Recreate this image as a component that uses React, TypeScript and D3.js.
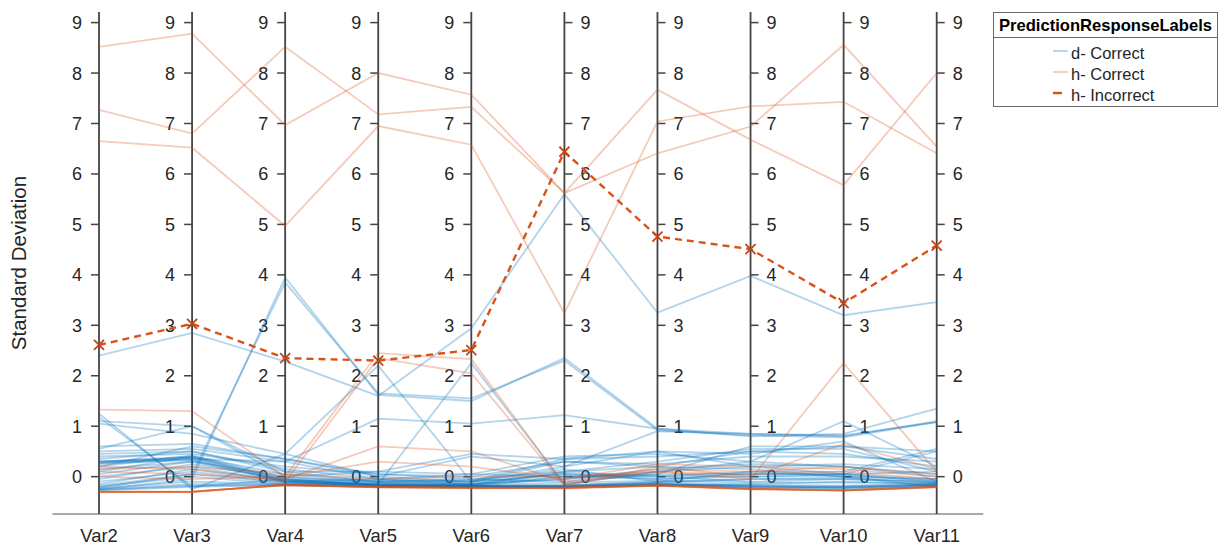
import React, { useEffect, useRef } from "react";
import * as d3 from "d3";

const dimensions = ["Var2", "Var3", "Var4", "Var5", "Var6", "Var7", "Var8", "Var9", "Var10", "Var11"];
const yTicks = [0, 1, 2, 3, 4, 5, 6, 7, 8, 9];

// d- Correct observations (one row per observation, one value per variable)
const dCorrect = [
    [2.40, 2.85, 2.28, 1.60, 2.94, 5.60, 3.25, 3.98, 3.20, 3.46],
    [-0.25, -0.05, 3.95, 1.62, 1.50, 2.35, 0.95, 0.85, 0.80, 1.10],
    [-0.22, 0.05, 3.85, 1.65, 1.55, 2.30, 0.92, 0.82, 0.78, 1.08],
    [0.30, 0.35, 0.30, 1.15, 1.05, 1.22, 0.95, 0.80, 0.85, 1.35],
    [1.25, -0.25, 0.45, 2.20, -0.10, 0.30, 0.20, 0.50, 0.60, 0.50],
    [1.18, -0.20, -0.05, -0.15, 2.25, -0.15, 0.10, 0.30, 1.10, 0.20],
    [1.10, 1.00, 0.10, -0.10, -0.10, 0.05, 0.00, 0.10, 0.10, 0.55],
    [0.55, 1.00, 0.00, -0.12, -0.15, 0.10, 0.30, 0.55, 0.55, 0.10],
    [1.05, 0.85, 0.45, 0.00, 0.40, 0.20, 0.50, 0.20, 0.05, -0.05],
    [0.30, 0.40, -0.05, -0.18, -0.18, -0.20, -0.15, -0.20, -0.20, -0.15],
    [0.28, 0.38, -0.08, -0.18, -0.20, -0.20, -0.15, -0.22, -0.22, -0.18],
    [0.25, 0.35, -0.10, -0.20, -0.20, 0.00, 0.05, 0.05, 0.05, -0.10],
    [0.40, 0.45, 0.20, 0.05, 0.00, 0.30, 0.25, 0.40, 0.40, 0.30],
    [0.50, 0.55, 0.30, -0.05, 0.05, 0.40, 0.45, 0.30, 0.20, 0.00],
    [0.00, 0.20, -0.10, -0.15, -0.15, -0.05, 0.15, 0.25, 0.20, 0.05],
    [-0.10, 0.10, -0.12, -0.15, -0.18, -0.18, -0.10, 0.10, 0.00, -0.05],
    [-0.20, 0.00, -0.15, -0.18, -0.20, -0.20, -0.18, -0.15, -0.10, -0.15],
    [-0.27, -0.20, -0.17, -0.20, -0.21, -0.21, -0.16, -0.20, -0.24, -0.18],
    [-0.26, -0.18, -0.16, -0.19, -0.20, -0.20, -0.15, -0.19, -0.22, -0.17],
    [-0.25, -0.15, -0.15, -0.18, -0.19, -0.19, -0.14, -0.18, -0.20, -0.16],
    [0.15, 0.30, 0.00, 0.10, 0.05, 0.00, -0.05, 0.00, 0.05, 0.50],
    [0.20, 0.60, 0.35, 0.05, -0.05, -0.10, 0.05, 0.60, 0.60, 0.35],
    [0.35, 0.50, 0.10, 0.10, 0.45, 0.35, 0.50, 0.45, 0.70, -0.10],
    [0.10, 0.40, 0.05, -0.10, -0.05, 0.10, 0.20, 0.15, 0.00, -0.20],
    [-0.05, 0.25, -0.05, -0.10, -0.12, 0.05, -0.05, 0.05, 0.05, 0.10],
    [0.05, 0.30, -0.10, -0.05, -0.10, 0.15, -0.10, -0.05, -0.05, -0.10],
    [0.60, 0.65, 0.35, 0.00, -0.10, 0.20, 0.90, 0.85, 0.82, 1.08],
    [0.45, 0.50, 0.15, -0.05, -0.15, -0.05, 0.10, 0.20, 0.25, 0.15],
    [-0.15, 0.15, -0.08, -0.12, -0.15, 0.00, 0.00, -0.10, -0.05, -0.12],
    [-0.18, 0.05, -0.12, -0.14, -0.17, -0.12, -0.08, -0.12, -0.12, -0.13],
    [0.30, 0.38, -0.06, -0.16, -0.17, 0.08, 0.02, 0.00, 0.02, -0.08],
    [0.27, 0.33, -0.09, -0.17, -0.19, -0.16, -0.12, -0.05, -0.02, -0.12],
    [-0.23, -0.10, -0.14, -0.17, -0.19, -0.18, -0.12, -0.16, -0.18, -0.14],
    [0.20, 0.42, -0.02, -0.08, -0.08, 0.35, 0.40, 0.50, 0.45, 0.20],
];

// h- Correct observations
const hCorrect = [
    [8.52, 8.78, 6.97, 8.00, 7.57, 5.62, 7.67, 6.68, 5.78, 8.00],
    [7.27, 6.80, 8.52, 7.18, 7.33, 5.62, 6.41, 6.94, 8.56, 6.54],
    [6.65, 6.52, 4.97, 6.95, 6.58, 3.24, 7.04, 7.34, 7.43, 6.41],
    [1.33, 1.30, 0.00, 2.45, 2.33, -0.15, 0.10, -0.05, 2.25, 0.10],
    [0.20, 0.15, -0.10, 2.35, 2.05, -0.18, 0.20, 0.00, 0.65, 0.15],
    [0.10, 0.05, -0.05, 0.60, 0.50, -0.10, 0.15, 0.10, 0.20, 0.05],
    [0.00, -0.05, 0.00, 0.30, 0.20, -0.05, 0.25, 0.20, 0.15, 0.00],
    [0.15, 0.20, 0.05, -0.05, 0.00, 0.00, 0.10, 0.05, 0.10, -0.05],
    [-0.30, -0.30, -0.16, -0.20, -0.22, -0.22, -0.17, -0.24, -0.27, -0.20],
    [-0.30, -0.30, -0.16, -0.21, -0.22, -0.22, -0.17, -0.24, -0.27, -0.21],
    [-0.29, -0.30, -0.16, -0.20, -0.22, -0.23, -0.18, -0.24, -0.27, -0.20],
    [-0.30, -0.29, -0.17, -0.20, -0.23, -0.22, -0.17, -0.25, -0.27, -0.20],
    [-0.30, -0.30, -0.16, -0.21, -0.22, -0.22, -0.17, -0.24, -0.28, -0.21],
    [-0.31, -0.30, -0.17, -0.21, -0.22, -0.23, -0.18, -0.25, -0.27, -0.20],
];

// h- Incorrect (single observation, dashed with markers)
const hIncorrect = [2.61, 3.03, 2.35, 2.30, 2.51, 6.44, 4.76, 4.51, 3.44, 4.58];

const legendItems = [
    { label: "d- Correct", color: "#0072BD", opacity: 0.3, dash: false },
    { label: "h- Correct", color: "#D95319", opacity: 0.3, dash: false },
    { label: "h- Incorrect", color: "#D95319", opacity: 1, dash: true },
];

const FONT = "'Liberation Sans', Arial, Helvetica, sans-serif";
const BLUE = "#0072BD";
const ORANGE = "#D95319";
const TEXT = "#262626";

const ParallelPlot = () => {
    const svgRef = useRef(null);

    useEffect(() => {
        const width = 1218;
        const height = 546;
        const top = 12;
        const bottom = 514;

        const svg = d3.select(svgRef.current);
        svg.selectAll("*").remove();
        svg.attr("width", width).attr("height", height);

        const xScale = d3.scalePoint().domain(dimensions).range([99, 936.7]);
        const step = xScale.step();
        const yScale = d3.scaleLinear().domain([-0.74, 9.21]).range([bottom, top]);

        const line = d3
            .line()
            .x((d, i) => xScale(dimensions[i]))
            .y((d) => yScale(d));

        // bottom baseline
        svg.append("line")
            .attr("x1", xScale(dimensions[0]) - step / 2)
            .attr("x2", xScale(dimensions[dimensions.length - 1]) + step / 2)
            .attr("y1", bottom)
            .attr("y2", bottom)
            .attr("stroke", "#555")
            .attr("stroke-width", 1.2);

        // vertical axes with ticks
        dimensions.forEach((dim, di) => {
            const x = xScale(dim);
            const rightSide = di >= 5;
            const g = svg.append("g");
            g.append("line")
                .attr("x1", x)
                .attr("x2", x)
                .attr("y1", top)
                .attr("y2", bottom)
                .attr("stroke", "#444")
                .attr("stroke-width", 1.8);

            g.selectAll(".tick")
                .data(yTicks)
                .enter()
                .append("line")
                .attr("x1", x)
                .attr("x2", rightSide ? x + 8 : x - 8)
                .attr("y1", (d) => yScale(d))
                .attr("y2", (d) => yScale(d))
                .attr("stroke", "#444")
                .attr("stroke-width", 1.5);

            g.selectAll(".ticklabel")
                .data(yTicks)
                .enter()
                .append("text")
                .attr("x", rightSide ? x + 16 : x - 17)
                .attr("y", (d) => yScale(d))
                .attr("dy", "0.36em")
                .attr("text-anchor", rightSide ? "start" : "end")
                .style("font-family", FONT)
                .style("font-size", "18px")
                .style("fill", TEXT)
                .text((d) => d);

            svg.append("text")
                .attr("x", x)
                .attr("y", 542)
                .attr("text-anchor", "middle")
                .style("font-family", FONT)
                .style("font-size", "18.4px")
                .style("fill", TEXT)
                .text(dim);
        });

        // observation lines
        svg.append("g")
            .selectAll("path")
            .data(dCorrect)
            .enter()
            .append("path")
            .attr("d", line)
            .attr("fill", "none")
            .attr("stroke", BLUE)
            .attr("stroke-opacity", 0.3)
            .attr("stroke-width", 1.8);

        svg.append("g")
            .selectAll("path")
            .data(hCorrect)
            .enter()
            .append("path")
            .attr("d", line)
            .attr("fill", "none")
            .attr("stroke", ORANGE)
            .attr("stroke-opacity", 0.3)
            .attr("stroke-width", 1.8);

        svg.append("path")
            .attr("d", line(hIncorrect))
            .attr("fill", "none")
            .attr("stroke", ORANGE)
            .attr("stroke-width", 2.4)
            .attr("stroke-dasharray", "7 5");

        const m = 5;
        svg.append("g")
            .selectAll("path")
            .data(hIncorrect)
            .enter()
            .append("path")
            .attr("d", (d, i) => {
                const cx = xScale(dimensions[i]);
                const cy = yScale(d);
                return `M${cx - m},${cy - m}L${cx + m},${cy + m}M${cx - m},${cy + m}L${cx + m},${cy - m}`;
            })
            .attr("stroke", "#C0461A")
            .attr("stroke-width", 1.8);

        // y label
        svg.append("text")
            .attr("transform", "translate(26, 263) rotate(-90)")
            .attr("text-anchor", "middle")
            .style("font-family", FONT)
            .style("font-size", "20.5px")
            .style("fill", TEXT)
            .text("Standard Deviation");

        // Legend
        const legend = svg.append("g");
        legend.append("rect")
            .attr("x", 993.5)
            .attr("y", 12.5)
            .attr("width", 224)
            .attr("height", 94)
            .attr("fill", "#fff")
            .attr("stroke", "#6b6b6b")
            .attr("stroke-width", 1);
        legend.append("line")
            .attr("x1", 993.5)
            .attr("x2", 1217.5)
            .attr("y1", 37.5)
            .attr("y2", 37.5)
            .attr("stroke", "#6b6b6b")
            .attr("stroke-width", 1);
        legend.append("text")
            .attr("x", 1105.5)
            .attr("y", 25)
            .attr("dy", "0.36em")
            .attr("text-anchor", "middle")
            .style("font-family", FONT)
            .style("font-size", "16.6px")
            .style("font-weight", "bold")
            .style("fill", "#000")
            .text("PredictionResponseLabels");

        legend
            .selectAll(".legend-item")
            .data(legendItems)
            .enter()
            .append("g")
            .attr("class", "legend-item")
            .attr("transform", (d, i) => `translate(0, ${53 + i * 21})`)
            .each(function (d) {
                const g = d3.select(this);
                g.append("line")
                    .attr("x1", 1053)
                    .attr("x2", d.dash ? 1062 : 1068)
                    .attr("y1", -2)
                    .attr("y2", -2)
                    .attr("stroke", d.color)
                    .attr("stroke-opacity", d.opacity)
                    .attr("stroke-width", d.dash ? 2.4 : 1.8);
                g.append("text")
                    .attr("x", 1071)
                    .attr("y", 0)
                    .attr("dy", "0.36em")
                    .style("font-family", FONT)
                    .style("font-size", "16.5px")
                    .style("fill", TEXT)
                    .text(d.label);
            });
    }, []);

    return <svg ref={svgRef} style={{ display: "block" }}></svg>;
};

const App = () => {
    return (
        <div style={{ position: "absolute", left: 0, top: 0, background: "#fff" }}>
            <ParallelPlot />
        </div>
    );
};

export default App;
